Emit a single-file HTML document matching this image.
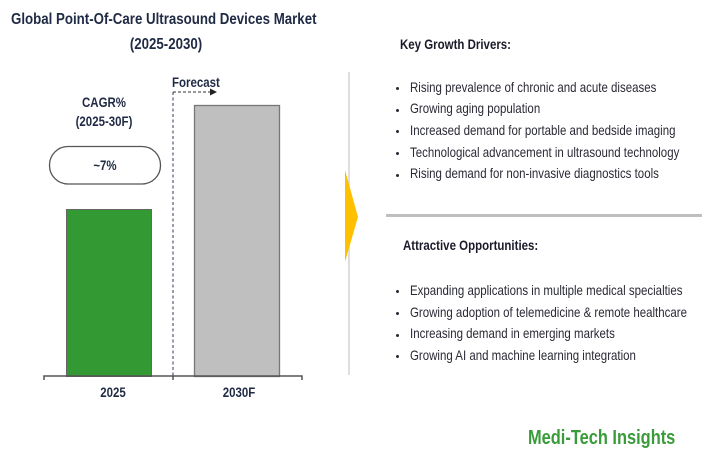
<!DOCTYPE html>
<html><head><meta charset="utf-8"><style>
html,body{margin:0;padding:0;background:#fff;}
#c{position:relative;width:706px;height:460px;overflow:hidden;font-family:"Liberation Sans",Arial,sans-serif;}
.t{position:absolute;white-space:nowrap;line-height:1;}
.l{transform:scaleX(0.82);transform-origin:0 50%;}
.m{transform:translateX(-50%) scaleX(0.82);transform-origin:50% 50%;}
.b{font-weight:bold;}
.nv{color:#1f2a44;}
.bl{font-size:14px;color:#2a2a36;}
.dot{position:absolute;width:3px;height:3px;border-radius:50%;background:#2a2a36;}
</style></head><body><div id="c">
<div class="t l b nv" style="left:11px;top:11.7px;font-size:16px;transform:scaleX(0.83);">Global Point-Of-Care Ultrasound Devices Market</div>
<div class="t m b nv" style="left:166px;top:36.7px;font-size:16px;transform:translateX(-50%) scaleX(0.83);">(2025-2030)</div>

<div class="t l b nv" style="left:172px;top:75px;font-size:14px;">Forecast</div>
<svg style="position:absolute;left:0;top:0" width="706" height="460">
<line x1="173" y1="92" x2="211" y2="92" stroke="#333" stroke-width="1" stroke-dasharray="3,2"/>
<polygon points="210,88.5 217,92 210,95.5" fill="#222"/>
<line x1="173" y1="92" x2="173" y2="376" stroke="#333a55" stroke-width="1" stroke-dasharray="3,2.5"/>
<rect x="66.5" y="209.5" width="85" height="167" fill="#339933" stroke="#666" stroke-width="1"/>
<rect x="194.5" y="105.5" width="85" height="271" fill="#bfbfbf" stroke="#777" stroke-width="1.3"/>
<polyline points="44,380 44,376 302,376 302,380" fill="none" stroke="#555" stroke-width="1.5"/>
<line x1="173" y1="376" x2="173" y2="380" stroke="#555" stroke-width="1.5"/>
<rect x="49.5" y="146.5" width="111" height="37.5" rx="18.5" ry="18.5" fill="#fff" stroke="#555" stroke-width="1.3"/>
<line x1="349" y1="72" x2="349" y2="375" stroke="#d4d4d4" stroke-width="1.5"/>
<polygon points="345,170 358,217 345,262" fill="#ffc000"/>
<rect x="386" y="214" width="316" height="3" fill="#bfbfbf"/>
</svg>
<div class="t m b nv" style="left:104px;top:95px;font-size:14px;">CAGR%</div>
<div class="t m b nv" style="left:104px;top:113.5px;font-size:14px;">(2025-30F)</div>
<div class="t m b nv" style="left:105px;top:158px;font-size:14px;">~7%</div>
<div class="t m b nv" style="left:113px;top:385px;font-size:14px;">2025</div>
<div class="t m b nv" style="left:239px;top:385px;font-size:14px;">2030F</div>

<div class="t l b" style="left:400px;top:36.5px;font-size:14px;color:#1a1a2a;">Key Growth Drivers:</div>
<div class="dot" style="left:395.5px;top:87px;"></div>
<div class="t l bl" style="left:410px;top:79.8px;">Rising prevalence of chronic and acute diseases</div>
<div class="dot" style="left:395.5px;top:108.6px;"></div>
<div class="t l bl" style="left:410px;top:101.4px;">Growing aging population</div>
<div class="dot" style="left:395.5px;top:130.3px;"></div>
<div class="t l bl" style="left:410px;top:123.1px;">Increased demand for portable and bedside imaging</div>
<div class="dot" style="left:395.5px;top:152px;"></div>
<div class="t l bl" style="left:410px;top:144.8px;">Technological advancement in ultrasound technology</div>
<div class="dot" style="left:395.5px;top:173.6px;"></div>
<div class="t l bl" style="left:410px;top:166.4px;">Rising demand for non-invasive diagnostics tools</div>

<div class="t l b" style="left:403px;top:238px;font-size:14px;color:#1a1a2a;">Attractive Opportunities:</div>
<div class="dot" style="left:395.5px;top:290.3px;"></div>
<div class="t l bl" style="left:410px;top:283.1px;">Expanding applications in multiple medical specialties</div>
<div class="dot" style="left:395.5px;top:312px;"></div>
<div class="t l bl" style="left:410px;top:304.8px;">Growing adoption of telemedicine &amp; remote healthcare</div>
<div class="dot" style="left:395.5px;top:333.6px;"></div>
<div class="t l bl" style="left:410px;top:326.4px;">Increasing demand in emerging markets</div>
<div class="dot" style="left:395.5px;top:355.3px;"></div>
<div class="t l bl" style="left:410px;top:348.1px;">Growing AI and machine learning integration</div>

<div class="t l b" style="left:528px;top:427.7px;font-size:20px;color:#3a9b3a;">Medi-Tech Insights</div>
</div></body></html>
